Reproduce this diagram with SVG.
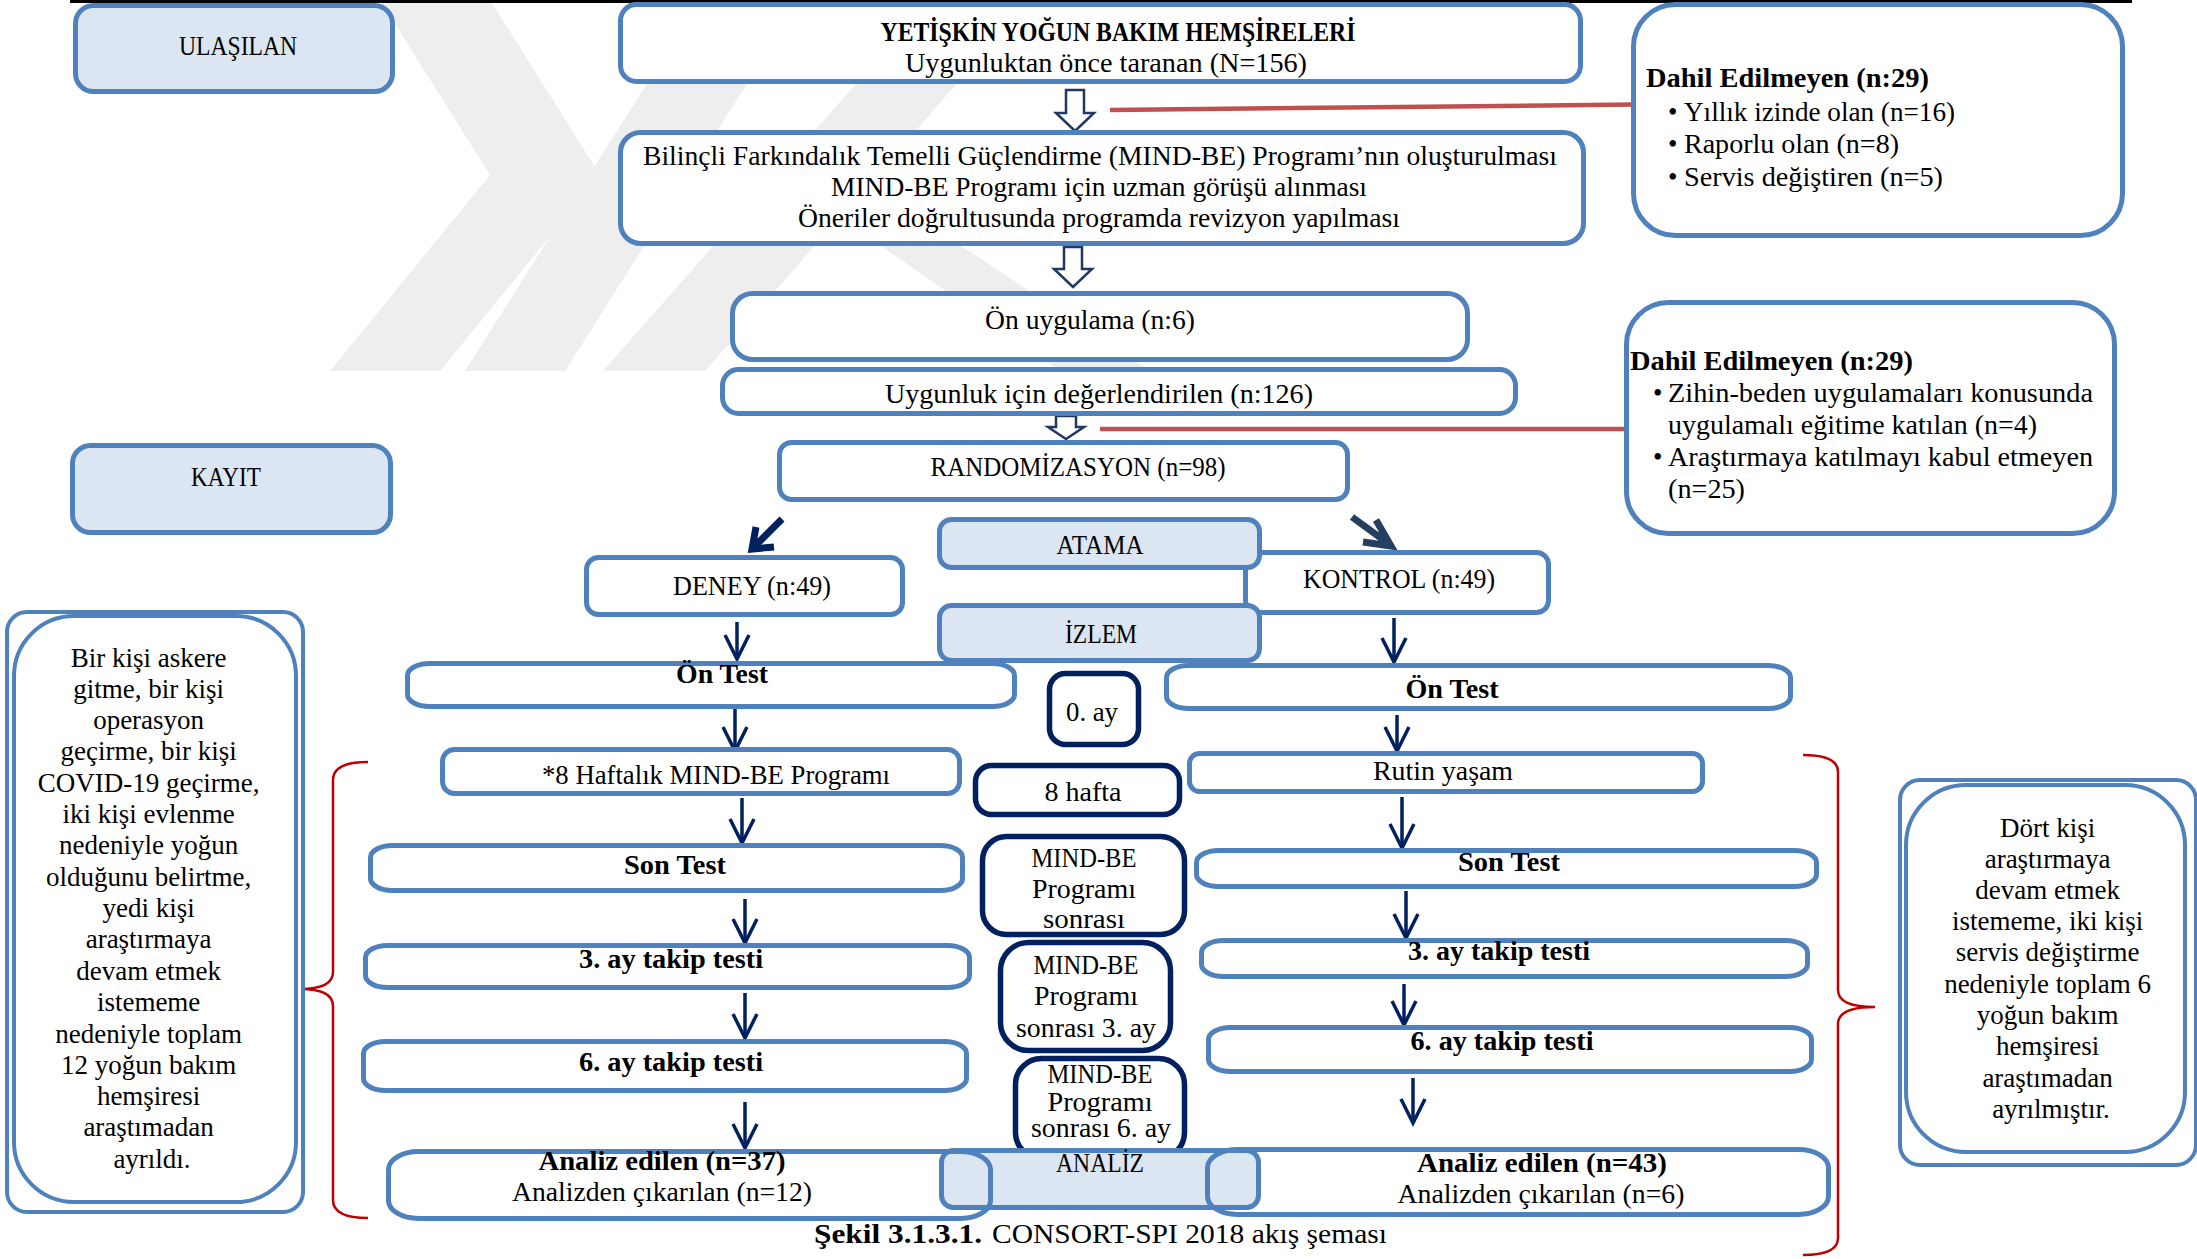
<svg xmlns="http://www.w3.org/2000/svg" width="2197" height="1259" viewBox="0 0 2197 1259">
<defs>
<style>
.t{font-family:'Liberation Serif','DejaVu Serif',serif;font-size:27px;fill:#000}
.m{text-anchor:middle}
.b{font-weight:bold}
.bx{fill:#fff;stroke:#4f81bd;stroke-width:5}
.lb{fill:#dce6f2;stroke:#4f81bd;stroke-width:5}
.nv{fill:#fff;stroke:#002060;stroke-width:5.5}
.no{fill:none;stroke:#4f81bd;stroke-width:5}
.nt{fill:#fff;stroke:#4f81bd;stroke-width:4}
.ar{stroke:#002060;stroke-width:3.5;fill:none;marker-end:url(#v)}
.ho{fill:#fff;stroke:#1f3864;stroke-width:2.5;stroke-linejoin:miter}
.rl{stroke:#c0504d;stroke-width:4.5}
.br{fill:none;stroke:#c00000;stroke-width:2.5}
.wm{fill:#eeeeee}
</style>
<marker id="v" markerUnits="userSpaceOnUse" viewBox="-28 -16 32 32" markerWidth="32" markerHeight="32" refX="0" refY="0" orient="auto" overflow="visible">
<path d="M-24,-12 L0,0 L-24,12" fill="none" stroke="#002060" stroke-width="3.5" stroke-linejoin="miter"/>
</marker>
</defs>
<rect x="0" y="0" width="2197" height="1259" fill="#fff"/>
<g id="watermark">
<polygon class="wm" points="380,0 490,0 600,175 440,371 330,371 490,175"/>
<polygon class="wm" points="700,0 800,0 565,371 465,371"/>
<polygon class="wm" points="930,0 1030,0 705,371 603,371"/>
<polygon class="wm" points="880,245 960,245 1150,371 1060,371"/>
</g>
<rect x="70" y="0" width="2062" height="3" fill="#000"/>

<g id="connectors">
<polygon class="ho" points="1066,90 1084,90 1084,113 1094,113 1075,131 1056,113 1066,113"/>
<polygon class="ho" points="1064,247 1082,247 1082,269 1092,269 1073,287 1054,269 1064,269"/>
<polygon class="ho" points="1056,416 1076,416 1076,427 1084,427 1066,439 1048,427 1056,427"/>
<line class="rl" x1="1110" y1="110" x2="1633" y2="104.5"/>
<line class="rl" x1="1100" y1="429" x2="1626" y2="429"/>
<path d="M782,519 L754,547 M756,527 L752,549 L774,547" fill="none" stroke="#002060" stroke-width="7" stroke-linejoin="miter"/>
<path d="M1352,517 L1389,544 M1376,520 L1391,546 L1363,542" fill="none" stroke="#243f60" stroke-width="7" stroke-linejoin="miter"/>
<line class="ar" x1="737" y1="622" x2="737" y2="659"/>
<line class="ar" x1="735" y1="708" x2="735" y2="751"/>
<line class="ar" x1="742" y1="798" x2="742" y2="843"/>
<line class="ar" x1="745" y1="899" x2="745" y2="943"/>
<line class="ar" x1="745" y1="993" x2="745" y2="1038"/>
<line class="ar" x1="745" y1="1102" x2="745" y2="1148"/>
<line class="ar" x1="1394" y1="618" x2="1394" y2="662"/>
<line class="ar" x1="1397" y1="715" x2="1397" y2="751"/>
<line class="ar" x1="1402" y1="797" x2="1402" y2="848"/>
<line class="ar" x1="1406" y1="891" x2="1406" y2="938"/>
<line class="ar" x1="1404" y1="984" x2="1404" y2="1025"/>
<line class="ar" x1="1413" y1="1078" x2="1413" y2="1123"/>
<path class="br" d="M368,762 Q333,762 333,780 L333,972 Q333,989 300,989 Q333,989 333,1006 L333,1200 Q333,1218 368,1218"/>
<path class="br" d="M1803,755 Q1838,755 1838,772 L1838,990 Q1838,1007 1875,1007 Q1838,1007 1838,1024 L1838,1238 Q1838,1255 1803,1255"/>
</g>

<g id="ulasilan">
<rect class="lb" x="75.5" y="5.5" width="317" height="86" rx="18"/>
<text class="t m" x="238" y="55" textLength="118" lengthAdjust="spacingAndGlyphs">ULAŞILAN</text>
</g>
<g id="kayit">
<rect class="lb" x="72.5" y="445.5" width="318" height="87" rx="18"/>
<text class="t m" x="226" y="486" textLength="70" lengthAdjust="spacingAndGlyphs">KAYIT</text>
</g>
<g id="yetiskin">
<rect class="bx" x="620.5" y="4.5" width="960" height="77" rx="16"/>
<text class="t m b" x="1118" y="41" textLength="475" lengthAdjust="spacingAndGlyphs">YETİŞKİN YOĞUN BAKIM HEMŞİRELERİ</text>
<text class="t m" x="1106" y="72" textLength="402" lengthAdjust="spacingAndGlyphs">Uygunluktan önce taranan (N=156)</text>
</g>
<g id="mindbe">
<rect class="bx" x="620.5" y="132.5" width="963" height="111" rx="20"/>
<text class="t m" x="1100" y="165" textLength="914" lengthAdjust="spacingAndGlyphs">Bilinçli Farkındalık Temelli Güçlendirme (MIND-BE) Programı’nın oluşturulması</text>
<text class="t m" x="1099" y="196" textLength="536" lengthAdjust="spacingAndGlyphs">MIND-BE Programı için uzman görüşü alınması</text>
<text class="t m" x="1099" y="227" textLength="602" lengthAdjust="spacingAndGlyphs">Öneriler doğrultusunda programda revizyon yapılması</text>
</g>
<g id="dahil1">
<rect class="bx" x="1633.5" y="4.5" width="489" height="231" rx="42"/>
<text class="t b" x="1646" y="87" textLength="283" lengthAdjust="spacingAndGlyphs">Dahil Edilmeyen (n:29)</text>
<text class="t" x="1668" y="121">•</text>
<text class="t" x="1684" y="121" textLength="271" lengthAdjust="spacingAndGlyphs">Yıllık izinde olan (n=16)</text>
<text class="t" x="1668" y="153">•</text>
<text class="t" x="1684" y="153" textLength="215" lengthAdjust="spacingAndGlyphs">Raporlu olan (n=8)</text>
<text class="t" x="1668" y="186">•</text>
<text class="t" x="1684" y="186" textLength="259" lengthAdjust="spacingAndGlyphs">Servis değiştiren (n=5)</text>
</g>
<g id="onuygulama">
<rect class="bx" x="732.5" y="293.5" width="735" height="66" rx="20"/>
<text class="t m" x="1090" y="329" textLength="210" lengthAdjust="spacingAndGlyphs">Ön uygulama (n:6)</text>
</g>
<g id="uygunluk">
<rect class="bx" x="722.5" y="369.5" width="793" height="44" rx="16"/>
<text class="t m" x="1099" y="403" textLength="428" lengthAdjust="spacingAndGlyphs">Uygunluk için değerlendirilen (n:126)</text>
</g>
<g id="dahil2">
<rect class="bx" x="1626.5" y="302.5" width="488" height="231" rx="42"/>
<text class="t b" x="1630" y="370" textLength="283" lengthAdjust="spacingAndGlyphs">Dahil Edilmeyen (n:29)</text>
<text class="t" x="1653" y="402">•</text>
<text class="t" x="1668" y="402" textLength="425" lengthAdjust="spacingAndGlyphs">Zihin-beden uygulamaları konusunda</text>
<text class="t" x="1668" y="434" textLength="369" lengthAdjust="spacingAndGlyphs">uygulamalı eğitime katılan (n=4)</text>
<text class="t" x="1653" y="466">•</text>
<text class="t" x="1668" y="466" textLength="425" lengthAdjust="spacingAndGlyphs">Araştırmaya katılmayı kabul etmeyen</text>
<text class="t" x="1668" y="498" textLength="77" lengthAdjust="spacingAndGlyphs">(n=25)</text>
</g>
<g id="randomizasyon">
<rect class="bx" x="779.5" y="442.5" width="568" height="57" rx="12"/>
<text class="t m" x="1078" y="476" textLength="295" lengthAdjust="spacingAndGlyphs">RANDOMİZASYON (n=98)</text>
</g>
<g id="deney">
<rect class="bx" x="586.5" y="557.5" width="316" height="57" rx="12"/>
<text class="t m" x="752" y="595" textLength="158" lengthAdjust="spacingAndGlyphs">DENEY (n:49)</text>
</g>
<g id="kontrol">
<rect class="bx" x="1245.5" y="552.5" width="303" height="60" rx="12"/>
<text class="t m" x="1399" y="588" textLength="192" lengthAdjust="spacingAndGlyphs">KONTROL (n:49)</text>
</g>
<g id="ontest-deney">
<rect class="bx" x="407.5" y="663.5" width="607" height="43" rx="22" ry="12"/>
<text class="t m b" x="722" y="683" textLength="92" lengthAdjust="spacingAndGlyphs">Ön Test</text>
</g>
<g id="ontest-kontrol">
<rect class="bx" x="1166.5" y="665.5" width="624" height="43" rx="22" ry="12"/>
<text class="t m b" x="1452" y="698" textLength="93" lengthAdjust="spacingAndGlyphs">Ön Test</text>
</g>
<g id="atama">
<rect class="lb" x="939.5" y="519.5" width="320" height="48" rx="12"/>
<text class="t m" x="1100" y="554" textLength="87" lengthAdjust="spacingAndGlyphs">ATAMA</text>
</g>
<g id="izlem">
<rect class="lb" x="939.5" y="605.5" width="320" height="55" rx="12"/>
<text class="t m" x="1101" y="643" textLength="72" lengthAdjust="spacingAndGlyphs">İZLEM</text>
</g>
<g id="ay0">
<rect class="nv" x="1049.5" y="673.5" width="89" height="71" rx="16"/>
<text class="t m" x="1092" y="721" textLength="52" lengthAdjust="spacingAndGlyphs">0. ay</text>
</g>
<g id="haftalik">
<rect class="bx" x="442.5" y="749.5" width="517" height="44" rx="12"/>
<text class="t m" x="716" y="784" textLength="348" lengthAdjust="spacingAndGlyphs">*8 Haftalık MIND-BE Programı</text>
</g>
<g id="hafta8">
<rect class="nv" x="975.5" y="765.5" width="204" height="49" rx="16"/>
<text class="t m" x="1083" y="801" textLength="77" lengthAdjust="spacingAndGlyphs">8 hafta</text>
</g>
<g id="rutin">
<rect class="bx" x="1189.5" y="753.5" width="513" height="38" rx="10"/>
<text class="t m" x="1443" y="780" textLength="140" lengthAdjust="spacingAndGlyphs">Rutin yaşam</text>
</g>
<g id="sontest-deney">
<rect class="bx" x="370.5" y="845.5" width="592" height="45" rx="22" ry="12"/>
<text class="t m b" x="675" y="874" textLength="102" lengthAdjust="spacingAndGlyphs">Son Test</text>
</g>
<g id="sontest-kontrol">
<rect class="bx" x="1196.5" y="850.5" width="620" height="36" rx="22" ry="12"/>
<text class="t m b" x="1509" y="871" textLength="102" lengthAdjust="spacingAndGlyphs">Son Test</text>
</g>
<g id="mindbe-sonrasi">
<rect class="nv" x="982.5" y="836.5" width="202" height="98" rx="24"/>
<text class="t m" x="1084" y="867" textLength="105" lengthAdjust="spacingAndGlyphs">MIND-BE</text>
<text class="t m" x="1084" y="898" textLength="104" lengthAdjust="spacingAndGlyphs">Programı</text>
<text class="t m" x="1084" y="928" textLength="82" lengthAdjust="spacingAndGlyphs">sonrası</text>
</g>
<g id="takip3-deney">
<rect class="bx" x="365.5" y="945.5" width="604" height="42" rx="22" ry="12"/>
<text class="t m b" x="671" y="968" textLength="184" lengthAdjust="spacingAndGlyphs">3. ay takip testi</text>
</g>
<g id="takip3-kontrol">
<rect class="bx" x="1201.5" y="940.5" width="606" height="36" rx="22" ry="12"/>
<text class="t m b" x="1499" y="960" textLength="182" lengthAdjust="spacingAndGlyphs">3. ay takip testi</text>
</g>
<g id="mindbe-3ay">
<rect class="nv" x="1000.5" y="942.5" width="170" height="108" rx="28"/>
<text class="t m" x="1086" y="974" textLength="105" lengthAdjust="spacingAndGlyphs">MIND-BE</text>
<text class="t m" x="1086" y="1005" textLength="104" lengthAdjust="spacingAndGlyphs">Programı</text>
<text class="t m" x="1086" y="1037" textLength="140" lengthAdjust="spacingAndGlyphs">sonrası 3. ay</text>
</g>
<g id="takip6-deney">
<rect class="bx" x="363.5" y="1041.5" width="603" height="49" rx="22" ry="12"/>
<text class="t m b" x="671" y="1071" textLength="184" lengthAdjust="spacingAndGlyphs">6. ay takip testi</text>
</g>
<g id="takip6-kontrol">
<rect class="bx" x="1208.5" y="1027.5" width="603" height="44" rx="22" ry="12"/>
<text class="t m b" x="1502" y="1050" textLength="183" lengthAdjust="spacingAndGlyphs">6. ay takip testi</text>
</g>
<g id="mindbe-6ay">
<rect class="nv" x="1015.5" y="1058.5" width="169" height="100" rx="26"/>
<text class="t m" x="1100" y="1083" textLength="105" lengthAdjust="spacingAndGlyphs">MIND-BE</text>
<text class="t m" x="1100" y="1111" textLength="105" lengthAdjust="spacingAndGlyphs">Programı</text>
<text class="t m" x="1101" y="1137" textLength="140" lengthAdjust="spacingAndGlyphs">sonrası 6. ay</text>
</g>
<g id="analiz">
<rect class="lb" x="941.5" y="1150.5" width="317" height="57" rx="12"/>
<text class="t m" x="1100" y="1172" textLength="88" lengthAdjust="spacingAndGlyphs">ANALİZ</text>
</g>
<g id="analiz-deney">
<rect class="no" x="388.5" y="1151.5" width="602" height="67" rx="30" ry="18"/>
<text class="t m b" x="662" y="1170" textLength="247" lengthAdjust="spacingAndGlyphs">Analiz edilen (n=37)</text>
<text class="t m" x="662" y="1201" textLength="300" lengthAdjust="spacingAndGlyphs">Analizden çıkarılan (n=12)</text>
</g>
<g id="analiz-kontrol">
<rect class="no" x="1207.5" y="1149.5" width="621" height="65" rx="30" ry="18"/>
<text class="t m b" x="1542" y="1172" textLength="250" lengthAdjust="spacingAndGlyphs">Analiz edilen (n=43)</text>
<text class="t m" x="1541" y="1203" textLength="287" lengthAdjust="spacingAndGlyphs">Analizden çıkarılan (n=6)</text>
</g>
<g id="not-deney">
<rect class="nt" x="7" y="612" width="296" height="600" rx="20"/>
<rect class="nt" x="14" y="616" width="282" height="586" rx="60"/>
<text class="t m" x="152">
<tspan x="152" y="667">Bir kişi askere</tspan>
<tspan x="152" y="698">gitme, bir kişi</tspan>
<tspan x="152" y="729">operasyon</tspan>
<tspan x="152" y="760">geçirme, bir kişi</tspan>
<tspan x="152" y="792">COVID-19 geçirme,</tspan>
<tspan x="152" y="823">iki kişi evlenme</tspan>
<tspan x="152" y="854">nedeniyle yoğun</tspan>
<tspan x="152" y="886">olduğunu belirtme,</tspan>
<tspan x="152" y="917">yedi kişi</tspan>
<tspan x="152" y="948">araştırmaya</tspan>
<tspan x="152" y="980">devam etmek</tspan>
<tspan x="152" y="1011">istememe</tspan>
<tspan x="152" y="1043">nedeniyle toplam</tspan>
<tspan x="152" y="1074">12 yoğun bakım</tspan>
<tspan x="152" y="1105">hemşiresi</tspan>
<tspan x="152" y="1136">araştımadan</tspan>
<tspan x="152" y="1168">ayrıldı.</tspan>
</text>
</g>
<g id="not-kontrol">
<rect class="nt" x="1900" y="780" width="296" height="385" rx="20"/>
<rect class="nt" x="1906" y="785" width="279" height="367" rx="60"/>
<text class="t m" x="2051">
<tspan x="2051" y="837">Dört kişi</tspan>
<tspan x="2051" y="868">araştırmaya</tspan>
<tspan x="2051" y="899">devam etmek</tspan>
<tspan x="2051" y="930">istememe, iki kişi</tspan>
<tspan x="2051" y="961">servis değiştirme</tspan>
<tspan x="2051" y="993">nedeniyle toplam 6</tspan>
<tspan x="2051" y="1024">yoğun bakım</tspan>
<tspan x="2051" y="1055">hemşiresi</tspan>
<tspan x="2051" y="1087">araştımadan</tspan>
<tspan x="2051" y="1118">ayrılmıştır.</tspan>
</text>
</g>
<g id="caption">
<text class="t b" x="814" y="1243" textLength="168" lengthAdjust="spacingAndGlyphs">Şekil 3.1.3.1.</text>
<text class="t" x="992" y="1243" textLength="395" lengthAdjust="spacingAndGlyphs">CONSORT-SPI 2018 akış şeması</text>
</g>
</svg>
